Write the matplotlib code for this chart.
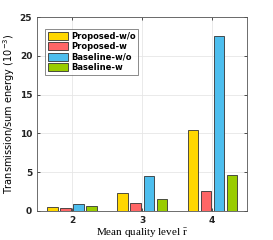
import matplotlib
matplotlib.use("Agg")
import matplotlib.pyplot as plt
import numpy as np

levels = [2, 3, 4]
proposed_wo = [0.5, 2.3, 10.4]
proposed_w = [0.4, 1.0, 2.6]
baseline_wo = [0.9, 4.5, 22.6]
baseline_w = [0.6, 1.6, 4.6]
names = ["Proposed-w/o", "Proposed-w", "Baseline-w/o", "Baseline-w"]
colors = ["#FFD700", "#FF6666", "#4DBEEE", "#99CC00"]

fig = plt.figure(figsize=(2.73, 2.4), dpi=100)
ax = fig.add_axes([0.1355, 0.121, 0.77, 0.808])

series = [proposed_wo, proposed_w, baseline_wo, baseline_w]
x = np.array(levels, dtype=float)
width = 0.145
pitch = 0.186
for i, vals in enumerate(series):
    off = (i - 1.5) * pitch
    ax.bar(x + off, vals, width, color=colors[i], edgecolor="#333333",
           linewidth=0.6, label=names[i], zorder=3)

ax.set_xlim(1.5, 4.5)
ax.set_ylim(0, 25)
ax.set_xticks(levels)
ax.set_yticks([0, 5, 10, 15, 20, 25])
ax.grid(color="#e6e6e6", linewidth=0.6, zorder=0)
ax.tick_params(direction="in", length=2.5, width=0.6, labelsize=6.5,
               top=True, right=True, colors="#333333", labelcolor="#222222")
for s in ax.spines.values():
    s.set_color("#555555")
    s.set_linewidth(0.6)
for t in ax.get_xticklabels() + ax.get_yticklabels():
    t.set_fontweight("bold")

ax.set_ylabel("Transmission/sum energy (10$^{-3}$)", fontsize=7, labelpad=2)
ax.set_xlabel(r"Mean quality level $\mathregular{\bar{r}}$", fontsize=8,
              family="Liberation Serif", labelpad=1)

leg = ax.legend(loc="upper left", prop={"weight": "bold", "size": 6},
                frameon=True, fancybox=False, edgecolor="#555555",
                handlelength=2.4, handleheight=1.1, labelspacing=0.15,
                borderpad=0.35, handletextpad=0.3, bbox_to_anchor=(0.02, 0.96))
leg.get_frame().set_linewidth(0.6)

fig.savefig("out.png", dpi=100)
